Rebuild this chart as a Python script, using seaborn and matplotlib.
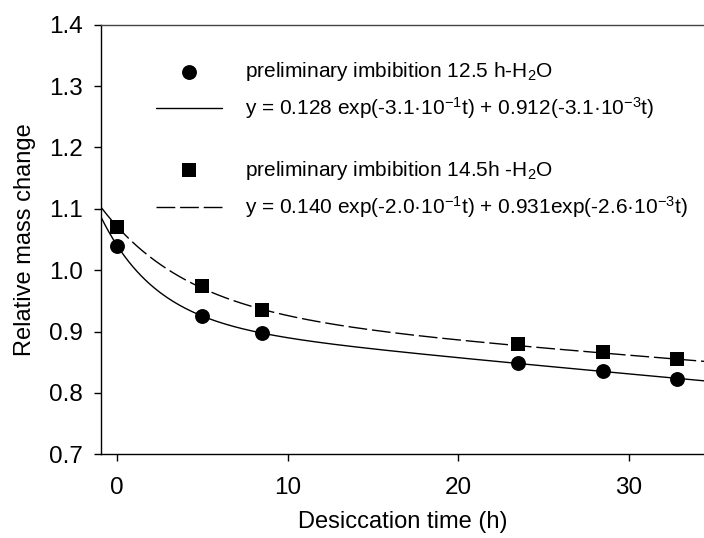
import numpy as np
import pandas as pd
import matplotlib
matplotlib.use("Agg")
import matplotlib.pyplot as plt
import seaborn as sns

time_h = [0, 5, 8.5, 23.5, 28.5, 32.8]
mass_12h = [1.040, 0.926, 0.898, 0.848, 0.835, 0.823]
mass_14h = [1.071, 0.974, 0.935, 0.880, 0.867, 0.856]

# fitted bi-exponential parameters, as printed in the legend
fit_12h = [0.128, 3.1e-1, 0.912, 3.1e-3]
fit_14h = [0.140, 2.0e-1, 0.931, 2.6e-3]

labels = [
    "preliminary imbibition 12.5 h-H$_2$O",
    "y = 0.128 exp(-3.1\u00b710$^{-1}$t) + 0.912(-3.1\u00b710$^{-3}$t)",
    "preliminary imbibition 14.5h -H$_2$O",
    "y = 0.140 exp(-2.0\u00b710$^{-1}$t) + 0.931exp(-2.6\u00b710$^{-3}$t)",
]

xlim = (-0.97, 34.41)
ylim = (0.7, 1.4)
yticks = [0.7, 0.8, 0.9, 1.0, 1.1, 1.2, 1.3, 1.4]
xticks = [0, 10, 20, 30]

sns.set_style("ticks")
plt.rcParams["font.family"] = ["Liberation Sans", "DejaVu Sans"]
plt.rcParams["text.color"] = "black"
plt.rcParams["axes.labelcolor"] = "black"
plt.rcParams["xtick.color"] = "black"
plt.rcParams["ytick.color"] = "black"
plt.rcParams["mathtext.fontset"] = "custom"
plt.rcParams["mathtext.rm"] = "Liberation Sans"
plt.rcParams["mathtext.it"] = "Liberation Sans"
plt.rcParams["mathtext.bf"] = "Liberation Sans:bold"


def biexp(t, p):
    a, b, c, d = p
    return a * np.exp(-b * t) + c * np.exp(-d * t)


t_fit = np.linspace(xlim[0], xlim[1], 300)
pts = pd.DataFrame({"t": time_h, "m12": mass_12h, "m14": mass_14h})
curves = pd.DataFrame({"t": t_fit, "f12": biexp(t_fit, fit_12h), "f14": biexp(t_fit, fit_14h)})

fig = plt.figure(figsize=(7.04, 5.38), dpi=100)
ax = fig.add_axes([0.143, 0.1556, 0.857, 0.7984])

sns.lineplot(data=curves, x="t", y="f12", ax=ax, color="black", lw=1.0, label=labels[1])
sns.lineplot(data=curves, x="t", y="f14", ax=ax, color="black", lw=1.0,
             linestyle=(0, (13.5, 3.5)), label=labels[3])
sns.scatterplot(data=pts, x="t", y="m12", ax=ax, marker="o", s=115, color="black",
                linewidth=0, label=labels[0], zorder=3)
sns.scatterplot(data=pts, x="t", y="m14", ax=ax, marker="s", s=90, color="black",
                linewidth=0, label=labels[2], zorder=3)

ax.set_xlim(*xlim)
ax.set_ylim(*ylim)
ax.set_xticks(xticks)
ax.set_yticks(yticks)
ax.set_yticklabels([f"{v:.1f}" for v in yticks])
ax.tick_params(labelsize=17.5, length=5, width=1, color="black")
ax.tick_params(axis="x", pad=11)
ax.tick_params(axis="y", pad=8)
ax.set_xlabel("Desiccation time (h)", fontsize=17, labelpad=9)
ax.set_ylabel("Relative mass change", fontsize=17, labelpad=9)
ax.spines["right"].set_visible(False)
for s in ["left", "bottom", "top"]:
    ax.spines[s].set_linewidth(1.0)
    ax.spines[s].set_color("black")
ax.spines["top"].set_color("#444444")

handles, labs = ax.get_legend_handles_labels()
hmap = dict(zip(labs, handles))
leg_kw = dict(frameon=False, fontsize=15, handlelength=3.17, handletextpad=1.1,
              labelspacing=0.6, borderpad=0, borderaxespad=0, loc="upper left")
leg1 = ax.legend([hmap[labels[0]], hmap[labels[1]]], labels[:2],
                 bbox_to_anchor=(0.092, 0.918), **leg_kw)
ax.add_artist(leg1)
ax.legend([hmap[labels[2]], hmap[labels[3]]], labels[2:],
          bbox_to_anchor=(0.092, 0.688), **leg_kw)

fig.savefig("out.png", dpi=100)
